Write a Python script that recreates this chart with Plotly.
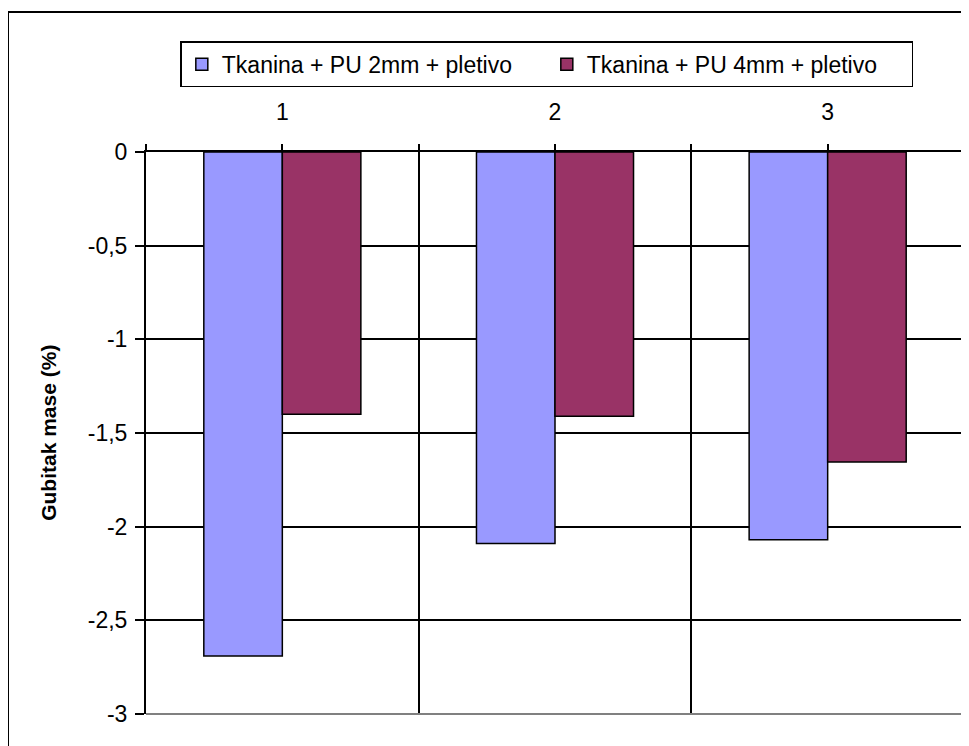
import plotly.graph_objects as go

# data
categories = [1, 2, 3]
cat_labels = ["1", "2", "3"]
series_2mm = [-2.69, -2.09, -2.07]
series_4mm = [-1.40, -1.41, -1.655]
names = ["Tkanina + PU 2mm + pletivo", "Tkanina + PU 4mm + pletivo"]
y_ticks = [0, -0.5, -1, -1.5, -2, -2.5, -3]
y_labels = ["0", "-0,5", "-1", "-1,5", "-2", "-2,5", "-3"]

font_family = "Liberation Sans, Arial, sans-serif"

fig = go.Figure()
fig.add_trace(go.Bar(x=categories, y=series_2mm, name=names[0],
                     marker=dict(color="#9999FF", line=dict(color="black", width=1.5))))
fig.add_trace(go.Bar(x=categories, y=series_4mm, name=names[1],
                     marker=dict(color="#993366", line=dict(color="black", width=1.5))))

# page body has an 8px margin, so the figure is a bit smaller than the window
fig.update_layout(
    width=961, height=738,
    paper_bgcolor="white", plot_bgcolor="white",
    barmode="group", bargap=0.424, bargroupgap=0,
    font=dict(family=font_family, size=23, color="black"),
    margin=dict(l=138, r=5, t=144, b=32),
    showlegend=True,
    legend=dict(orientation="h", x=0.49, xanchor="center", y=1.197, yanchor="top",
                bordercolor="black", borderwidth=1.5, bgcolor="white",
                font=dict(size=23), entrywidth=320, traceorder="normal",
                itemwidth=30),
    xaxis=dict(side="top", range=[0.5, 3.5], tickmode="array", tickvals=categories,
               ticktext=cat_labels, ticks="outside", ticklen=6, tickcolor="black",
               tickwidth=1.5, showgrid=False, showline=True, linecolor="black",
               linewidth=2, ticklabelstandoff=15, zeroline=False, automargin=False,
               minor=dict(tickvals=[0.5, 1.5, 2.5, 3.5], ticks="outside", ticklen=6,
                          tickcolor="black", tickwidth=1.5, showgrid=True,
                          gridcolor="black", gridwidth=2)),
    yaxis=dict(range=[-3, 0], tickmode="array", tickvals=y_ticks, ticktext=y_labels,
               ticks="outside", ticklen=9, tickcolor="black", tickwidth=1.5,
               ticklabelstandoff=3,
               showgrid=True, gridcolor="black", gridwidth=2, zeroline=False,
               showline=True, linecolor="black", linewidth=2, automargin=False),
)

# y axis title
fig.add_annotation(text="<b>Gubitak mase (%)</b>", textangle=-90, xref="paper", yref="paper",
                   x=-0.12, y=0.5, xanchor="center", yanchor="middle", showarrow=False,
                   font=dict(size=21))

# plot area right and bottom border (grey)
fig.add_shape(type="line", xref="paper", yref="paper", x0=1, x1=1, y0=0, y1=1,
              line=dict(color="#808080", width=2), layer="above")
fig.add_shape(type="line", xref="paper", yref="paper", x0=0, x1=1, y0=0, y1=0,
              line=dict(color="#808080", width=2), layer="above")
# outer chart frame
fig.add_shape(type="rect", xref="paper", yref="paper", x0=-0.1687, x1=1.2, y0=-0.3, y1=1.249,
              line=dict(color="black", width=2), fillcolor="rgba(0,0,0,0)", layer="below")

fig.write_html("out.html")
